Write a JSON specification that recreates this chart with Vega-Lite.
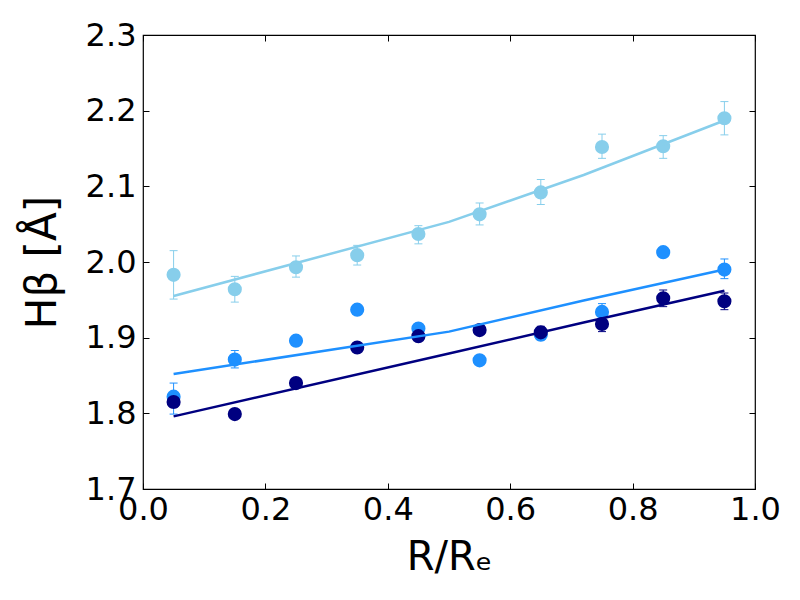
{
  "$schema": "https://vega.github.io/schema/vega-lite/v6.json",
  "width": 612,
  "height": 454,
  "autosize": "none",
  "padding": {"left": 143, "top": 35, "right": 45, "bottom": 111},
  "background": "white",
  "config": {
    "view": {"stroke": "black", "strokeWidth": 1.2},
    "font": "DejaVu Sans",
    "axis": {
      "grid": false,
      "domain": false,
      "tickColor": "black",
      "tickSize": -6,
      "tickWidth": 1,
      "labelColor": "black",
      "labelFont": "DejaVu Sans",
      "labelFontSize": 32,
      "labelFlush": false,
      "labelOverlap": false,
      "titleFont": "DejaVu Sans",
      "titleFontWeight": "normal",
      "titleColor": "black"
    }
  },
  "datasets": {
    "pts": [
      {"series": "sky", "r": 0.05, "hb": 1.983, "lo": 1.951, "hi": 2.015},
      {"series": "sky", "r": 0.15, "hb": 1.964, "lo": 1.947, "hi": 1.981},
      {"series": "sky", "r": 0.25, "hb": 1.993, "lo": 1.980, "hi": 2.008},
      {"series": "sky", "r": 0.35, "hb": 2.009, "lo": 1.996, "hi": 2.022},
      {"series": "sky", "r": 0.45, "hb": 2.037, "lo": 2.024, "hi": 2.048},
      {"series": "sky", "r": 0.55, "hb": 2.063, "lo": 2.049, "hi": 2.078},
      {"series": "sky", "r": 0.65, "hb": 2.092, "lo": 2.076, "hi": 2.109},
      {"series": "sky", "r": 0.75, "hb": 2.152, "lo": 2.137, "hi": 2.169},
      {"series": "sky", "r": 0.85, "hb": 2.153, "lo": 2.137, "hi": 2.167},
      {"series": "sky", "r": 0.95, "hb": 2.190, "lo": 2.168, "hi": 2.212},
      {"series": "mid", "r": 0.05, "hb": 1.822, "lo": 1.799, "hi": 1.840},
      {"series": "mid", "r": 0.15, "hb": 1.871, "lo": 1.860, "hi": 1.883},
      {"series": "mid", "r": 0.25, "hb": 1.896, "lo": 1.894, "hi": 1.898},
      {"series": "mid", "r": 0.35, "hb": 1.937, "lo": 1.935, "hi": 1.939},
      {"series": "mid", "r": 0.45, "hb": 1.912, "lo": 1.908, "hi": 1.916},
      {"series": "mid", "r": 0.55, "hb": 1.870, "lo": 1.868, "hi": 1.872},
      {"series": "mid", "r": 0.65, "hb": 1.904, "lo": 1.897, "hi": 1.911},
      {"series": "mid", "r": 0.75, "hb": 1.934, "lo": 1.924, "hi": 1.945},
      {"series": "mid", "r": 0.85, "hb": 2.013, "lo": 2.011, "hi": 2.015},
      {"series": "mid", "r": 0.95, "hb": 1.990, "lo": 1.978, "hi": 2.004},
      {"series": "dark", "r": 0.05, "hb": 1.815, "lo": 1.808, "hi": 1.822},
      {"series": "dark", "r": 0.15, "hb": 1.799, "lo": 1.797, "hi": 1.801},
      {"series": "dark", "r": 0.25, "hb": 1.840, "lo": 1.837, "hi": 1.843},
      {"series": "dark", "r": 0.35, "hb": 1.887, "lo": 1.885, "hi": 1.889},
      {"series": "dark", "r": 0.45, "hb": 1.902, "lo": 1.898, "hi": 1.906},
      {"series": "dark", "r": 0.55, "hb": 1.910, "lo": 1.906, "hi": 1.914},
      {"series": "dark", "r": 0.65, "hb": 1.907, "lo": 1.899, "hi": 1.915},
      {"series": "dark", "r": 0.75, "hb": 1.918, "lo": 1.908, "hi": 1.928},
      {"series": "dark", "r": 0.85, "hb": 1.952, "lo": 1.941, "hi": 1.963},
      {"series": "dark", "r": 0.95, "hb": 1.948, "lo": 1.937, "hi": 1.959}
    ],
    "fits": [
      {"series": "sky", "r": 0.05, "hb": 1.955},
      {"series": "sky", "r": 0.5, "hb": 2.053},
      {"series": "sky", "r": 0.72, "hb": 2.115},
      {"series": "sky", "r": 0.95, "hb": 2.187},
      {"series": "mid", "r": 0.05, "hb": 1.852},
      {"series": "mid", "r": 0.5, "hb": 1.908},
      {"series": "mid", "r": 0.72, "hb": 1.949},
      {"series": "mid", "r": 0.95, "hb": 1.990},
      {"series": "dark", "r": 0.05, "hb": 1.796},
      {"series": "dark", "r": 0.5, "hb": 1.879},
      {"series": "dark", "r": 0.72, "hb": 1.920},
      {"series": "dark", "r": 0.95, "hb": 1.962}
    ]
  },
  "resolve": {"axis": {"x": "independent", "y": "independent"}},
  "layer": [
    {
      "data": {"name": "pts"},
      "mark": {"type": "rule", "strokeWidth": 1},
      "encoding": {
        "x": {"field": "r", "type": "quantitative", "scale": {"domain": [0, 1], "nice": false, "zero": false}, "axis": null},
        "y": {"field": "lo", "type": "quantitative", "scale": {"domain": [1.7, 2.3], "nice": false, "zero": false}, "axis": null},
        "y2": {"field": "hi"},
        "color": {"field": "series", "type": "nominal", "scale": {"domain": ["sky", "mid", "dark"], "range": ["#87CEEB", "#1E90FF", "#000080"]}, "legend": null}
      }
    },
    {
      "data": {"name": "pts"},
      "mark": {"type": "tick", "orient": "horizontal", "size": 8, "thickness": 1, "opacity": 1},
      "encoding": {
        "x": {"field": "r", "type": "quantitative", "axis": null},
        "y": {"field": "lo", "type": "quantitative", "axis": null},
        "color": {"field": "series", "type": "nominal", "legend": null}
      }
    },
    {
      "data": {"name": "pts"},
      "mark": {"type": "tick", "orient": "horizontal", "size": 8, "thickness": 1, "opacity": 1},
      "encoding": {
        "x": {"field": "r", "type": "quantitative", "axis": null},
        "y": {"field": "hi", "type": "quantitative", "axis": null},
        "color": {"field": "series", "type": "nominal", "legend": null}
      }
    },
    {
      "data": {"name": "pts"},
      "mark": {"type": "circle", "size": 200, "opacity": 1},
      "encoding": {
        "x": {"field": "r", "type": "quantitative", "axis": {"orient": "bottom", "values": [0, 0.2, 0.4, 0.6, 0.8, 1.0], "format": ".1f", "labelPadding": 11, "title": "R/Rₑ", "titleFontSize": 40, "titlePadding": 12}},
        "y": {"field": "hb", "type": "quantitative", "axis": {"orient": "left", "values": [1.7, 1.8, 1.9, 2.0, 2.1, 2.2, 2.3], "format": ".1f", "labelPadding": 13, "title": "Hβ [Å]", "titleFontSize": 42, "titlePadding": 21}},
        "color": {"field": "series", "type": "nominal", "legend": null}
      }
    },
    {
      "data": {"name": "fits"},
      "mark": {"type": "line", "strokeWidth": 2.5},
      "encoding": {
        "x": {"field": "r", "type": "quantitative", "axis": {"orient": "top", "values": [0, 0.2, 0.4, 0.6, 0.8, 1.0], "labels": false, "title": null}},
        "y": {"field": "hb", "type": "quantitative", "axis": {"orient": "right", "values": [1.7, 1.8, 1.9, 2.0, 2.1, 2.2, 2.3], "labels": false, "title": null}},
        "color": {"field": "series", "type": "nominal", "legend": null},
        "detail": {"field": "series"}
      }
    }
  ]
}
